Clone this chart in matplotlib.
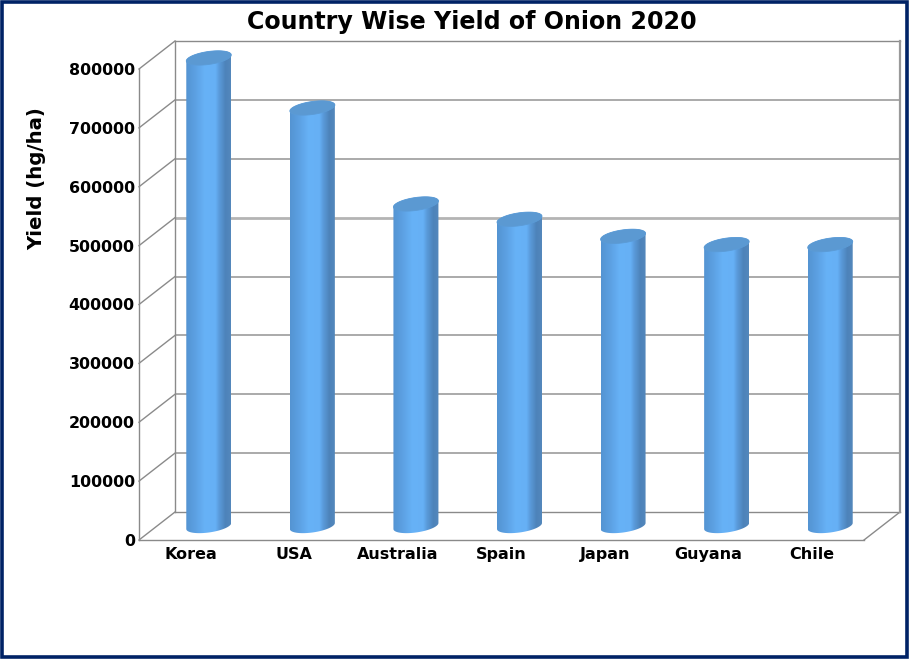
import numpy as np
import matplotlib
matplotlib.use("Agg")
import matplotlib.pyplot as plt
from matplotlib.colors import LinearSegmentedColormap
from matplotlib.patches import Polygon, Rectangle

countries = ["Korea", "USA", "Australia", "Spain", "Japan", "Guyana", "Chile"]
yields = [795000, 710000, 547000, 521000, 492000, 478000, 478000]
yticks = [0, 100000, 200000, 300000, 400000, 500000, 600000, 700000, 800000]

W, H = 909, 659
plt.rcParams["font.family"] = "DejaVu Sans"
fig = plt.figure(figsize=(W / 100, H / 100), dpi=100, facecolor="white")

# front plane of the 3D box, in pixels
L, R, B, T = 139, 864, 540, 69
ax = fig.add_axes([L / W, 1 - B / H, (R - L) / W, (B - T) / H])
ax.patch.set_alpha(0)
ax.set_xlim(0, len(countries))
ax.set_ylim(0, 800000)
x0, x1 = ax.get_xlim()
px_x = (R - L) / len(countries)
px_y = (B - T) / 800000
DX, DY = 36 / px_x, 28 / px_y  # box depth in data units

GRID = "#aaaaaa"
EDGE = "#8a8a8a"

# back wall sits up and right of the front plane
for v in yticks:
    yb = v + DY
    if 0 < v < 800000:
        heavy = v == 500000
        ax.plot([x0 + DX, x1 + DX], [yb, yb], color="#b4b4b4" if heavy else GRID,
                lw=2.0 if heavy else 1.4, clip_on=False, zorder=1, solid_capstyle="butt")
    ax.plot([x0, x0 + DX], [v, yb], color=EDGE, lw=1.0, clip_on=False, zorder=1)
ax.plot([x0 + DX, x1 + DX], [800000 + DY] * 2, color=EDGE, lw=1.0, clip_on=False, zorder=1)
ax.plot([x0 + DX, x1 + DX], [DY, DY], color=EDGE, lw=1.0, clip_on=False, zorder=1)
ax.plot([x0 + DX, x0 + DX], [DY, 800000 + DY], color=EDGE, lw=1.0, clip_on=False, zorder=1)
ax.plot([x1, x1 + DX], [0, DY], color=EDGE, lw=1.0, clip_on=False, zorder=1)
ax.plot([x1 + DX, x1 + DX], [DY, 800000 + DY], color="#999999", lw=1.6, clip_on=False, zorder=1)

cmap = LinearSegmentedColormap.from_list(
    "cyl",
    [(0.0, "#5494d2"), (0.2, "#5ca0e2"), (0.42, "#67b2f7"), (0.66, "#66b0f5"),
     (0.74, "#5a9bdb"), (0.88, "#4d83ba"), (1.0, "#5488bc")],
)
grad = np.linspace(0, 1, 128).reshape(1, -1)
a, b, shear = 22.5 / px_x, 6.5 / px_y, 3.0 / px_y
t = np.linspace(0, 2 * np.pi, 100)

for i, v in enumerate(yields):
    cx = i + 0.5 + DX / 2
    base = DY / 2
    top = v + DY / 2
    # lower half of the base ellipse, then upper half of the top ellipse
    tb = np.linspace(np.pi, 2 * np.pi, 50)
    tt = np.linspace(0, np.pi, 50)
    xs = np.r_[cx + a * np.cos(tb), cx + a * np.cos(tt)]
    ys = np.r_[base + shear * np.cos(tb) + b * np.sin(tb),
               top + shear * np.cos(tt) + b * np.sin(tt)]
    shape = Polygon(np.column_stack([xs, ys]), closed=True, fill=False, lw=0, clip_on=False)
    ax.add_patch(shape)
    im = ax.imshow(grad, cmap=cmap, aspect="auto", interpolation="bilinear",
                   extent=[cx - a, cx + a, base - b - shear, top + b + shear], zorder=3)
    im.set_clip_path(shape)
    im.set_clip_box(fig.bbox)
    cap = Polygon(np.column_stack([cx + a * np.cos(t),
                                   top + shear * np.cos(t) + b * np.sin(t)]),
                  closed=True, facecolor="#5b99d2", edgecolor="#5b9bd6", lw=0.6,
                  clip_on=False, zorder=4)
    ax.add_patch(cap)

ax.set_xlim(0, len(countries))
ax.set_ylim(0, 800000)

for s in ["top", "right"]:
    ax.spines[s].set_visible(False)
for s in ["left", "bottom"]:
    ax.spines[s].set_color(EDGE)
    ax.spines[s].set_linewidth(1.0)

ax.set_xticks(np.arange(len(countries)) + 0.5)
ax.set_xticklabels(countries, fontsize=11.5, fontweight="bold", color="black")
ax.set_yticks(yticks)
ax.set_yticklabels([str(v) for v in yticks], fontsize=11.4, fontweight="bold", color="black")
ax.tick_params(axis="y", length=0, pad=3)
ax.tick_params(axis="x", length=0, pad=5)

fig.text(472 / W, 1 - 22 / H, "Country Wise Yield of Onion 2020", fontsize=17.1,
         fontweight="bold", ha="center", va="center", color="black")
fig.text(37 / W, 1 - 179 / H, "Yield (hg/ha)", rotation=90, fontsize=14.2,
         fontweight="bold", ha="center", va="center", color="black")

fig.add_artist(Rectangle((1.6 / W, 1.6 / H), (W - 3.6) / W, (H - 3.2) / H,
                         transform=fig.transFigure, fill=False, joinstyle="miter",
                         edgecolor="#002366", lw=2.6, zorder=10))

fig.savefig("out.png", dpi=100, facecolor="white")
